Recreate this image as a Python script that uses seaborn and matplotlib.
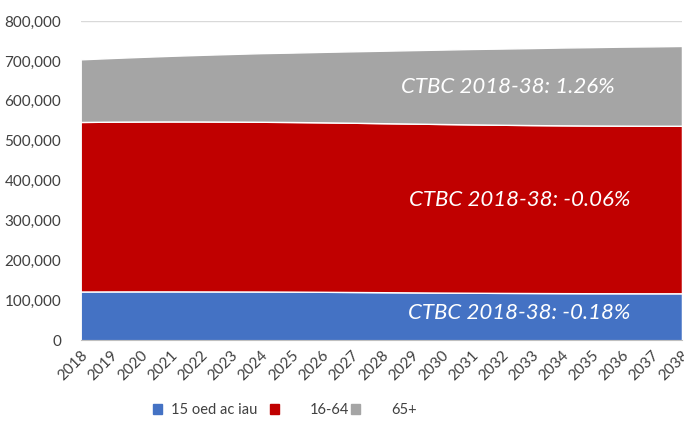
import matplotlib
matplotlib.use("Agg")
import matplotlib.pyplot as plt
import matplotlib.transforms as mtransforms
import seaborn as sns
from matplotlib.ticker import FuncFormatter
from matplotlib.patches import Patch

# Data
years = list(range(2018, 2039))
age_0_15 = [122000, 122200, 122300, 122300, 122200, 122100, 122000, 121700, 121300, 120800,
            120300, 119800, 119300, 118900, 118500, 118200, 117900, 117700, 117600, 117500, 117500]
age_16_64 = [425000, 425500, 425800, 426000, 426000, 425800, 425500, 425200, 424800, 424300,
             423700, 423200, 422600, 422000, 421500, 421000, 420700, 420400, 420200, 420000, 420000]
age_65 = [157000, 159500, 162000, 164500, 167000, 169500, 172000, 174000, 176500, 179000,
          181500, 184000, 186500, 189000, 191000, 193000, 195000, 196500, 198000, 199000, 200000]
labels = ["15 oed ac iau", "16-64", "65+"]
colors = ["#4472C4", "#C00000", "#A5A5A5"]
notes = ["CTBC 2018-38: -0.18%", "CTBC 2018-38: -0.06%", "CTBC 2018-38: 1.26%"]

sns.set_style("white")
plt.rcParams['font.family'] = ['Lato', 'DejaVu Sans']

fig = plt.figure(figsize=(6.84, 4.21), dpi=100)
ax = fig.add_axes([0.118, 0.192, 0.879, 0.758])

ax.stackplot(years, age_0_15, age_16_64, age_65, colors=colors, zorder=2)

ax.set_xlim(2018, 2038)
ax.set_ylim(0, 800000)
ax.set_yticks(range(0, 800001, 100000))
ax.yaxis.set_major_formatter(FuncFormatter(lambda v, p: f"{int(v):,}"))
ax.set_xticks(years)
ax.set_xticklabels([str(y) for y in years], rotation=45, ha="right",
                   rotation_mode="anchor", fontsize=11, color="#404040")
shift = mtransforms.ScaledTranslation(3 / 100, -2 / 100, fig.dpi_scale_trans)
for lab in ax.get_xticklabels():
    lab.set_transform(lab.get_transform() + shift)
ax.tick_params(axis="y", labelsize=11, colors="#404040", length=0, pad=14)
ax.tick_params(axis="x", length=4, color="#BFBFBF", direction="out", pad=2)
ax.grid(axis="y", color="#D9D9D9", linewidth=1, zorder=0)
for s in ["top", "right", "left"]:
    ax.spines[s].set_visible(False)
ax.spines["bottom"].set_color("#BFBFBF")
ax.spines["bottom"].set_zorder(3)

ax.text(2032.6, 68000, notes[0], color="white", style="italic", fontsize=16,
        ha="center", va="center", zorder=4)
ax.text(2032.6, 351000, notes[1], color="white", style="italic", fontsize=16,
        ha="center", va="center", zorder=4)
ax.text(2032.2, 634000, notes[2], color="white", style="italic", fontsize=16,
        ha="center", va="center", zorder=4)

# legend entries placed one by one, as spaced in the original
legend_x = [153 / 684, 270 / 684, 351 / 684]
for c, lab, x0 in zip(colors, labels, legend_x):
    pad = 0.6 if lab == labels[0] else 2.1
    fig.legend([Patch(facecolor=c, edgecolor=c)], [lab], loc="center left",
               bbox_to_anchor=(x0, 0.026), frameon=False, fontsize=10.5,
               handlelength=0.65, handleheight=0.65, handletextpad=pad,
               borderpad=0, borderaxespad=0, labelcolor="#404040")

fig.savefig("out.png", dpi=100)
